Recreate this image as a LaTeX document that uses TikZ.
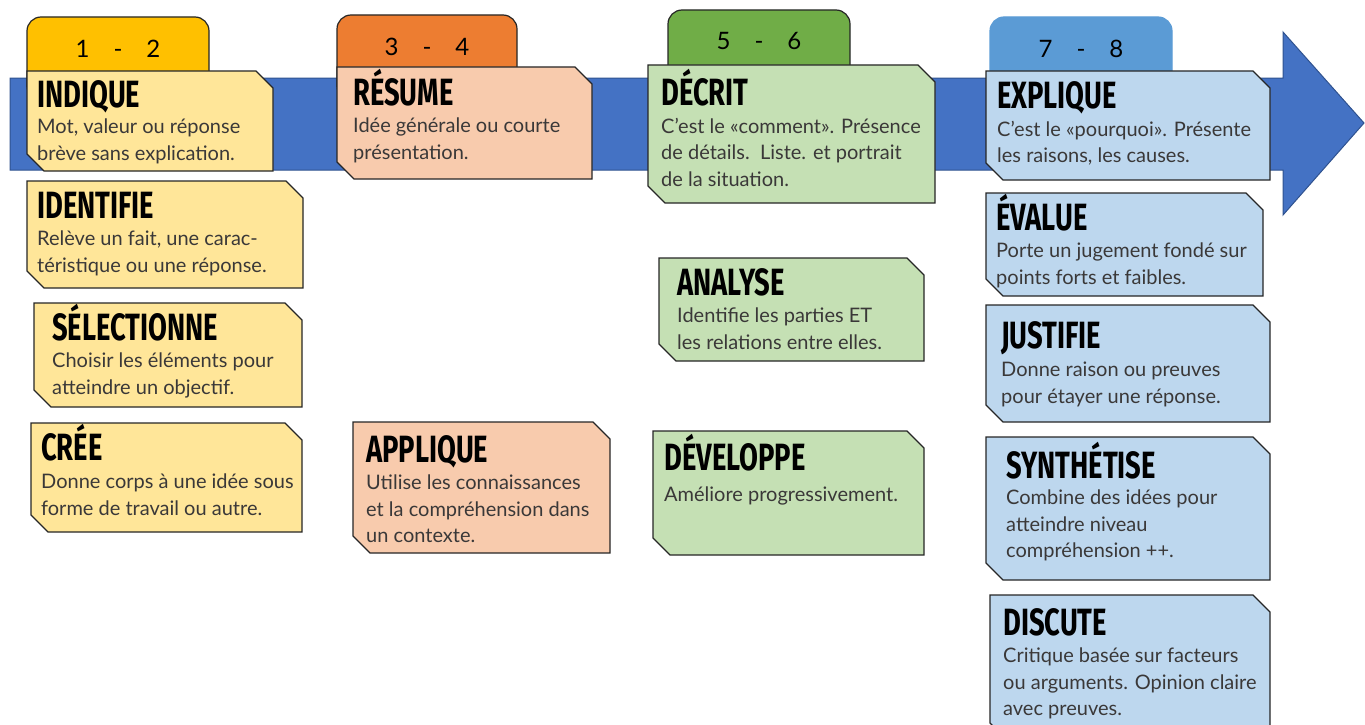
\documentclass[tikz,border=0pt]{standalone}
\usepackage{fontspec}
\setmainfont{Lato}
\newfontfamily\titlefont[FakeStretch=0.72]{Fira Sans}
\definecolor{arrowblue}{RGB}{68, 114, 196}
\definecolor{arrowline}{RGB}{47, 82, 143}
\definecolor{cardline}{RGB}{38, 38, 38}
\definecolor{bodygray}{RGB}{58, 56, 56}
\definecolor{tabyel}{RGB}{255, 192, 0}
\definecolor{taborg}{RGB}{237, 125, 49}
\definecolor{tabgrn}{RGB}{112, 173, 71}
\definecolor{tabblu}{RGB}{91, 155, 213}
\definecolor{cardyel}{RGB}{255, 230, 153}
\definecolor{cardorg}{RGB}{248, 203, 173}
\definecolor{cardgrn}{RGB}{197, 224, 180}
\definecolor{cardblu}{RGB}{189, 215, 238}
\tikzset{
    card/.style={draw=cardline, line width=1.2pt},
    tab/.style={draw=cardline, line width=1.2pt, rounded corners=14pt},
    cardtitle/.style={anchor=base west, inner sep=0pt, font=\titlefont\bfseries\fontsize{38}{38}\selectfont},
    % body text: anchored on the top of a strut, so y = first baseline - 18.5
    cardbody/.style={anchor=north west, inner sep=0pt, align=left, text=bodygray,
        font=\fontsize{20}{26.5}\selectfont, execute at begin node=\strut},
    tablabel/.style={inner sep=0pt, font=\fontsize{24}{24}\selectfont}
}

\begin{document}
\begin{tikzpicture}[x=1pt, y=-1pt]
    \useasboundingbox (0,0) rectangle (1365,725);

    % the long arrow
    \filldraw[fill=arrowblue, draw=arrowline, line width=1pt] (10,78) -- (1283,78) -- (1283,32) -- (1364,123) -- (1283,215) -- (1283,170) -- (10,170) -- cycle;

    % level tabs
    \filldraw[tab, fill=tabyel] (27,17) rectangle (209,100);
    \node[tablabel] (lvA) at (118,49) {1\quad-\quad2};

    \filldraw[tab, fill=taborg] (337,15) rectangle (517,100);
    \node[tablabel] (lvB) at (427,47) {3\quad-\quad4};

    \filldraw[tab, fill=tabgrn] (668,10) rectangle (850,100);
    \node[tablabel] (lvC) at (759,41) {5\quad-\quad6};

    \filldraw[tab, draw=tabblu, fill=tabblu] (990,17) rectangle (1172,100);
    \node[tablabel] (lvD) at (1081,49) {7\quad-\quad8};

    % 1 - 2
    \filldraw[card, fill=cardyel] (27,71) -- (256,71) -- (273,88) -- (273,171) -- (44,171) -- (27,154) -- cycle;
    \node[cardtitle] (indique) at (37,107) {INDIQUE};
    \node[cardbody] (indique-txt) at (37,119) {Mot, valeur ou réponse\\brève sans explication.};

    \filldraw[card, fill=cardyel] (27,181) -- (286,181) -- (303,198) -- (303,288) -- (44,288) -- (27,271) -- cycle;
    \node[cardtitle] (identifie) at (37,218) {IDENTIFIE};
    \node[cardbody] (identifie-txt) at (37,231) {Relève un fait, une carac-\\téristique ou une réponse.};

    \filldraw[card, fill=cardyel] (34,303) -- (285,303) -- (302,320) -- (302,407) -- (51,407) -- (34,390) -- cycle;
    \node[cardtitle] (selectionne) at (52,340) {SÉLECTIONNE};
    \node[cardbody] (selectionne-txt) at (52,353) {Choisir les éléments pour\\atteindre un objectif.};

    \filldraw[card, fill=cardyel] (31,423) -- (285,423) -- (302,440) -- (302,532) -- (48,532) -- (31,515) -- cycle;
    \node[cardtitle] (cree) at (41,460) {CRÉE};
    \node[cardbody] (cree-txt) at (41,474) {Donne corps à une idée sous\\forme de travail ou autre.};

    % 3 - 4
    \filldraw[card, fill=cardorg] (337,67) -- (575,67) -- (592,84) -- (592,179) -- (354,179) -- (337,162) -- cycle;
    \node[cardtitle] (resume) at (353,105) {RÉSUME};
    \node[cardbody] (resume-txt) at (353,118) {Idée générale ou courte\\présentation.};

    \filldraw[card, fill=cardorg] (353,422) -- (593,422) -- (610,439) -- (610,553) -- (370,553) -- (353,536) -- cycle;
    \node[cardtitle] (applique) at (366,462) {APPLIQUE};
    \node[cardbody] (applique-txt) at (366,475) {Utilise les connaissances\\et la compréhension dans\\un contexte.};

    % 5 - 6
    \filldraw[card, fill=cardgrn] (648,65) -- (918,65) -- (935,82) -- (935,203) -- (665,203) -- (648,186) -- cycle;
    \node[cardtitle] (decrit) at (661,105) {DÉCRIT};
    \node[cardbody] (decrit-txt) at (661,118) {C’est le «comment». Présence\\de détails.\ \ Liste. et portrait\\de la situation.};

    \filldraw[card, fill=cardgrn] (659,258) -- (907,258) -- (924,275) -- (924,361) -- (676,361) -- (659,344) -- cycle;
    \node[cardtitle] (analyse) at (677,295) {ANALYSE};
    \node[cardbody] (analyse-txt) at (677,308) {Identifie les parties ET\\les relations entre elles.};

    \filldraw[card, fill=cardgrn] (653,431) -- (907,431) -- (924,448) -- (924,555) -- (670,555) -- (653,538) -- cycle;
    \node[cardtitle] (developpe) at (664,470) {DÉVELOPPE};
    \node[cardbody] (developpe-txt) at (664,483) {Améliore progressivement.};

    % 7 - 8
    \filldraw[card, fill=cardblu] (986,71) -- (1253,71) -- (1270,88) -- (1270,180) -- (1003,180) -- (986,163) -- cycle;
    \node[cardtitle] (explique) at (997,108) {EXPLIQUE};
    \node[cardbody] (explique-txt) at (997,121) {C’est le «pourquoi». Présente\\les raisons, les causes.};

    \filldraw[card, fill=cardblu] (986,193) -- (1246,193) -- (1263,210) -- (1263,296) -- (1003,296) -- (986,279) -- cycle;
    \node[cardtitle] (evalue) at (996,230) {ÉVALUE};
    \node[cardbody] (evalue-txt) at (996,243) {Porte un jugement fondé sur\\points forts et faibles.};

    \filldraw[card, fill=cardblu] (986,305) -- (1253,305) -- (1270,322) -- (1270,422) -- (1003,422) -- (986,405) -- cycle;
    \node[cardtitle] (justifie) at (1001,348) {JUSTIFIE};
    \node[cardbody] (justifie-txt) at (1001,362) {Donne raison ou preuves\\pour étayer une réponse.};

    \filldraw[card, fill=cardblu] (986,437) -- (1253,437) -- (1270,454) -- (1270,580) -- (1003,580) -- (986,563) -- cycle;
    \node[cardtitle] (synthetise) at (1006,478) {SYNTHÉTISE};
    \node[cardbody] (synthetise-txt) at (1006,490) {Combine des idées pour\\atteindre niveau\\compréhension ++.};

    \filldraw[card, fill=cardblu] (990,595) -- (1253,595) -- (1270,612) -- (1270,740) -- (1007,740) -- (990,723) -- cycle;
    \node[cardtitle] (discute) at (1003,635) {DISCUTE};
    \node[cardbody] (discute-txt) at (1003,648) {Critique basée sur facteurs\\ou arguments. Opinion claire\\avec preuves.};
\end{tikzpicture}
\end{document}
